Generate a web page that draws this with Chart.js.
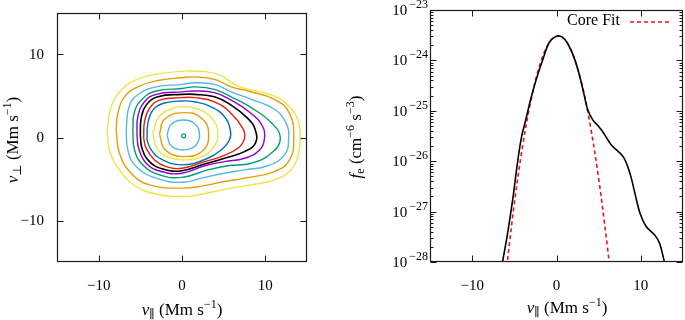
<!DOCTYPE html>
<html>
<head>
<meta charset="utf-8">
<script src="https://cdn.jsdelivr.net/npm/chart.js@4/dist/chart.umd.min.js"></script>
<style>
  body { margin: 0; width: 685px; height: 320px; background: #fff; position: relative; overflow: hidden; }
  .panel { position: absolute; top: 0; }
</style>
</head>
<body>
<div class="panel" style="left:0"><canvas id="contourChart" width="330" height="320"></canvas></div>
<div class="panel" style="left:340px"><canvas id="fitChart" width="345" height="320"></canvas></div>
<script>
// axis ticks
const vTicks = [-10, 0, 10];
const fTickExps = [-28, -27, -26, -25, -24, -23];

// contour lines of the distribution, outermost first (v_par, v_perp in Mm/s)
const contourYellowOuter = [[-9.0,0.9],[-8.5,3.7],[-7.1,5.9],[-5.1,7.1],[-2.7,7.7],[0.5,8.0],[3.0,7.9],[4.8,7.4],[6.3,6.4],[7.6,5.9],[10.8,5.1],[12.7,3.9],[13.9,2.1],[14.2,-0.1],[13.9,-2.3],[13.1,-3.9],[11.1,-5.1],[8.3,-5.7],[5.9,-6.1],[3.9,-6.5],[1.5,-7.0],[0,-7.1],[-2.7,-6.9],[-5.5,-5.9],[-7.5,-3.9],[-8.7,-1.5]];
const contourOrangeOuter = [[-7.9,0.9],[-7.7,2.9],[-6.9,4.9],[-5.1,6.2],[-2.7,6.9],[0,7.2],[1.5,7.3],[3.9,7.0],[5.9,6.1],[7.9,5.6],[11.1,4.6],[12.9,2.9],[13.4,-0.1],[12.9,-2.7],[11.1,-4.1],[7.5,-4.9],[5.1,-5.3],[2.7,-5.8],[0,-6.1],[-3.9,-5.7],[-6.1,-4.3],[-7.5,-1.9]];
const contourSkyOuter = [[-6.7,1.0],[-6.3,3.9],[-5.1,5.3],[-3.1,6.1],[0,6.4],[1.5,6.6],[3.9,6.4],[5.9,5.5],[8.3,4.6],[11.1,3.4],[12.5,1.7],[12.8,-0.1],[12.3,-2.1],[10.3,-3.4],[7.5,-3.9],[5.1,-4.3],[2.7,-4.8],[0,-5.4],[-3.1,-4.9],[-5.5,-3.5],[-6.5,-1.5]];
const contourGreen = [[-5.9,0.9],[-5.7,3.1],[-4.7,4.7],[-3.1,5.6],[0,5.9],[1.5,6.1],[3.9,5.8],[5.9,4.9],[8.3,3.6],[10.7,1.8],[11.8,-0.1],[10.7,-1.9],[8.3,-3.1],[5.5,-3.4],[3.1,-3.9],[0,-4.8],[-2.7,-4.5],[-4.7,-3.3],[-5.7,-1.5]];
const contourPurple = [[-5.4,0.3],[-5.3,2.5],[-4.5,4.3],[-3.1,5.2],[0,5.5],[1.5,5.6],[3.9,5.4],[5.9,4.5],[8.3,2.9],[9.7,1.3],[9.9,-0.1],[9.3,-1.5],[7.5,-2.5],[5.1,-2.9],[2.7,-3.4],[0,-4.3],[-2.5,-4.1],[-4.3,-3.1],[-5.2,-1.3]];
const contourBlack = [[-5.0,0.3],[-4.9,2.3],[-4.3,3.9],[-2.9,4.9],[0,5.2],[1.5,5.2],[3.9,4.9],[5.9,3.9],[7.9,2.3],[8.8,0.9],[8.8,-0.7],[7.5,-1.7],[5.1,-2.5],[2.7,-3.2],[0,-4.0],[-2.3,-3.8],[-3.9,-2.9],[-4.8,-1.3]];
const contourRed = [[-4.6,-0.1],[-4.5,1.9],[-3.9,3.5],[-2.7,4.5],[0,4.8],[1.5,4.8],[3.9,4.3],[5.9,2.9],[7.3,1.1],[7.5,-0.1],[6.7,-1.3],[4.7,-2.3],[2.7,-2.9],[0,-3.7],[-1.9,-3.5],[-3.3,-2.7],[-4.3,-1.3]];
const contourBlue = [[-4.2,-0.3],[-4.1,1.7],[-3.5,3.3],[-2.3,4.1],[0,4.4],[1.5,4.3],[3.5,3.7],[5.1,2.5],[5.8,0.9],[5.7,-0.3],[4.7,-1.5],[3.1,-2.5],[0,-3.3],[-2.7,-2.5],[-3.8,-1.3]];
const contourYellowInner = [[-3.5,0.5],[-2.7,2.6],[-0.8,3.6],[0.4,3.7],[2.0,3.4],[3.6,2.3],[4.3,0.5],[3.7,-1.3],[2.2,-2.4],[0.4,-2.7],[-1.6,-2.4],[-3.0,-1.3]];
const contourOrangeInner = [[-2.7,0.4],[-2.1,2.2],[0.25,3.0],[2.4,2.3],[3.2,0.4],[2.5,-1.6],[0.25,-2.3],[-2.0,-1.5]];
const contourSkyInner = [[-1.8,0.3],[-1.3,1.6],[0.15,2.1],[1.6,1.6],[2.1,0.3],[1.6,-1.0],[0.15,-1.5],[-1.3,-1.0]];
const contourPeak = [[0.2, 0.2]];

const contours = [contourYellowOuter, contourOrangeOuter, contourSkyOuter, contourGreen, contourPurple,
  contourBlack, contourRed, contourBlue, contourYellowInner, contourOrangeInner, contourSkyInner];
const contourColors = ['#f0e442', '#e69f00', '#56b4e9', '#009e73', '#9400d3',
  '#000000', '#e51e10', '#0072b2', '#f0e442', '#e69f00', '#56b4e9'];

// reduced distribution along v_par
const vPar = [-6.4, -5.8, -5.2, -4.6, -4.15, -3.6, -3.1, -2.4, -1.6, -0.8, 0.2, 1.0, 1.95, 2.7, 3.3, 3.7, 4.3, 4.9, 5.5, 6.5, 7.9, 8.7, 9.3, 9.9, 10.65, 11.6, 12.2, 12.8];
const fMeasured = [1.0e-28, 3.7e-28, 1.7e-27, 1.0e-26, 3.0e-26, 7.1e-26, 1.6e-25, 4.2e-25, 1.07e-24, 2.35e-24, 3.05e-24, 2.6e-24, 1.3e-24, 5.2e-25, 2.0e-25, 1.05e-25, 6.6e-26, 5.1e-26, 3.8e-26, 2.1e-26, 1.23e-26, 5.8e-27, 2.3e-27, 9.3e-28, 5.0e-28, 3.5e-28, 2.4e-28, 1.0e-28];
const vFit = [-6, -5, -4, -3, -2, -1, 0, 1, 2, 3, 4, 5, 6, 6.5];
const fCoreFit = [5.8e-29, 1.46e-27, 2.1e-26, 1.7e-25, 7.9e-25, 2.06e-24, 3.05e-24, 2.58e-24, 1.23e-24, 3.4e-25, 5.2e-26, 4.5e-27, 2.25e-28, 4.1e-29];

const FAMILY = '"Liberation Serif", "DejaVu Serif", serif';
const MINUS = '\u2212';

function drawRich(ctx, parts, cx, cy, size, rotate) {
  ctx.save();
  ctx.translate(cx, cy);
  if (rotate) ctx.rotate(-Math.PI / 2);
  const small = Math.round(size * 0.68);
  const fontOf = p => (p.it ? 'italic ' : '') + ((p.sub || p.sup) ? small : size) + 'px ' + FAMILY;
  let w = 0;
  parts.forEach(p => { ctx.font = fontOf(p); p.w = ctx.measureText(p.t).width; w += p.w; });
  let x = -w / 2;
  ctx.fillStyle = '#000';
  ctx.textBaseline = 'alphabetic';
  ctx.textAlign = 'left';
  parts.forEach(p => {
    ctx.font = fontOf(p);
    const dy = p.sub ? size * 0.22 : p.sup ? -size * 0.38 : 0;
    ctx.fillText(p.t, x, size * 0.33 + dy);
    x += p.w;
  });
  ctx.restore();
}

// frame with inward ticks on all four sides, gnuplot style
function frameTicks(cfg) {
  return {
    id: 'frameTicks',
    afterDatasetsDraw(chart) {
      const { ctx, chartArea: a, scales } = chart;
      const L = Math.round(a.left) + 0.5, R = Math.round(a.right) - 0.5;
      const T = Math.round(a.top) + 0.5, B = Math.round(a.bottom) - 0.5;
      ctx.save();
      ctx.strokeStyle = '#1a1a1a';
      ctx.lineWidth = 1;
      ctx.beginPath();
      cfg.xTicks.forEach(v => {
        const px = Math.round(scales.x.getPixelForValue(v)) + 0.5;
        ctx.moveTo(px, B); ctx.lineTo(px, B - 6);
        ctx.moveTo(px, T); ctx.lineTo(px, T + 6);
      });
      cfg.yTicks.forEach(t => {
        const py = Math.round(scales.y.getPixelForValue(t.v)) + 0.5;
        ctx.moveTo(L, py); ctx.lineTo(L + t.len, py);
        ctx.moveTo(R, py); ctx.lineTo(R - t.len, py);
      });
      ctx.stroke();
      ctx.lineWidth = 1.2;
      ctx.strokeRect(L, T, R - L, B - T);
      ctx.restore();
      if (cfg.extra) cfg.extra(chart);
    }
  };
}

const tickFont = { family: FAMILY, size: 15 };
const fmtTick = v => String(v).replace('-', MINUS);

function fixedX(h) { return sc => { sc.height = h; }; }
function fixedY(w) { return sc => { sc.width = w; }; }
function setTicks(vals) { return sc => { sc.ticks = vals.map(v => ({ value: v })); }; }

// ---- left panel: contours ----
const contourSets = contours.map((pts, i) => ({
  data: pts.concat([pts[0]]).map(([x, y]) => ({ x, y })),
  borderColor: contourColors[i],
  borderWidth: i === 5 ? 1.6 : 1.4,
  showLine: true,
  tension: 0.45,
  pointRadius: 0,
  fill: false
}));
contourSets.push({
  data: contourPeak.map(([x, y]) => ({ x, y })),
  borderColor: '#009e73',
  backgroundColor: 'rgba(0,0,0,0)',
  borderWidth: 1.2,
  pointRadius: 2,
  showLine: false
});

new Chart(document.getElementById('contourChart'), {
  type: 'scatter',
  data: { datasets: contourSets },
  options: {
    responsive: false,
    animation: false,
    layout: { padding: { left: 0, right: 23, top: 13, bottom: 0 } },
    plugins: { legend: { display: false }, tooltip: { enabled: false } },
    scales: {
      x: {
        type: 'linear', min: -15, max: 15,
        grid: { display: false, drawTicks: false }, border: { display: false },
        afterBuildTicks: setTicks(vTicks), afterFit: fixedX(58),
        ticks: { font: tickFont, color: '#000', padding: 15, maxRotation: 0, callback: fmtTick }
      },
      y: {
        type: 'linear', min: -15, max: 15,
        grid: { display: false, drawTicks: false }, border: { display: false },
        afterBuildTicks: setTicks(vTicks), afterFit: fixedY(57),
        ticks: { display: false }
      }
    }
  },
  plugins: [frameTicks({
    xTicks: vTicks,
    yTicks: vTicks.map(v => ({ v, len: 6 })),
    extra(chart) {
      const { ctx, scales, chartArea: a } = chart;
      ctx.save();
      ctx.fillStyle = '#000';
      ctx.font = '15px ' + FAMILY;
      ctx.textAlign = 'right';
      ctx.textBaseline = 'middle';
      vTicks.forEach(v => ctx.fillText(fmtTick(v), a.left - 13, scales.y.getPixelForValue(v) + 1));
      ctx.restore();
      drawRich(ctx, [{ t: 'v', it: true }, { t: '\u2225', sub: true }, { t: ' (Mm s' }, { t: MINUS + '1', sup: true }, { t: ')' }], 182, 309, 17, false);
      drawRich(ctx, [{ t: 'v', it: true }, { t: '\u22a5', sub: true }, { t: ' (Mm s' }, { t: MINUS + '1', sup: true }, { t: ')' }], 12, 140, 17, true);
    }
  })]
});

// ---- right panel: f_e along v_par with core fit ----
const minorTicks = [];
fTickExps.slice(0, -1).forEach(e => { for (let m = 2; m <= 9; m++) minorTicks.push({ v: m * Math.pow(10, e), len: 3 }); });

new Chart(document.getElementById('fitChart'), {
  type: 'scatter',
  data: {
    datasets: [
      {
        label: 'data',
        data: vPar.map((x, i) => ({ x, y: fMeasured[i] })),
        borderColor: '#000', borderWidth: 1.6, showLine: true, tension: 0.35, pointRadius: 0
      },
      {
        label: 'Core Fit',
        data: vFit.map((x, i) => ({ x, y: fCoreFit[i] })),
        borderColor: '#e8141c', borderWidth: 1.6, borderDash: [4, 3], showLine: true, tension: 0.35, pointRadius: 0
      }
    ]
  },
  options: {
    responsive: false,
    animation: false,
    layout: { padding: { left: 0, right: 2, top: 10, bottom: 0 } },
    plugins: { legend: { display: false }, tooltip: { enabled: false } },
    scales: {
      x: {
        type: 'linear', min: -15, max: 15,
        grid: { display: false, drawTicks: false }, border: { display: false },
        afterBuildTicks: setTicks(vTicks), afterFit: fixedX(58),
        ticks: { font: tickFont, color: '#000', padding: 15, maxRotation: 0, callback: fmtTick }
      },
      y: {
        type: 'logarithmic', min: 1e-28, max: 1e-23,
        grid: { display: false, drawTicks: false }, border: { display: false },
        afterFit: fixedY(90),
        ticks: { display: false }
      }
    }
  },
  plugins: [frameTicks({
    xTicks: vTicks,
    yTicks: fTickExps.map(e => ({ v: Math.pow(10, e), len: 6 })).concat(minorTicks),
    extra(chart) {
      const { ctx, scales, chartArea: a } = chart;
      ctx.save();
      ctx.fillStyle = '#000';
      ctx.textBaseline = 'alphabetic';
      ctx.textAlign = 'left';
      fTickExps.forEach(e => {
        const py = scales.y.getPixelForValue(Math.pow(10, e));
        const exp = MINUS + String(-e);
        ctx.font = '12px ' + FAMILY;
        const ew = ctx.measureText(exp).width;
        ctx.font = '15px ' + FAMILY;
        const bw = ctx.measureText('10').width;
        const right = a.left - 2;
        ctx.fillText('10', right - ew - bw - 2, py + 5);
        ctx.font = '12px ' + FAMILY;
        ctx.fillText(exp, right - ew, py - 2);
      });
      // key
      ctx.font = '16px ' + FAMILY;
      ctx.textAlign = 'right';
      ctx.textBaseline = 'middle';
      ctx.fillText('Core Fit', 280, 21);
      ctx.strokeStyle = '#e8141c';
      ctx.lineWidth = 1.6;
      ctx.setLineDash([4, 3]);
      ctx.beginPath();
      ctx.moveTo(290, 22); ctx.lineTo(331, 22);
      ctx.stroke();
      ctx.restore();
      drawRich(ctx, [{ t: 'v', it: true }, { t: '\u2225', sub: true }, { t: ' (Mm s' }, { t: MINUS + '1', sup: true }, { t: ')' }], 227, 307, 17, false);
      drawRich(ctx, [{ t: 'f', it: true }, { t: 'e', sub: true }, { t: ' (cm' }, { t: MINUS + '6', sup: true }, { t: ' s' }, { t: MINUS + '3', sup: true }, { t: ')' }], 15, 137, 17, true);
    }
  })]
});
</script>
</body>
</html>
